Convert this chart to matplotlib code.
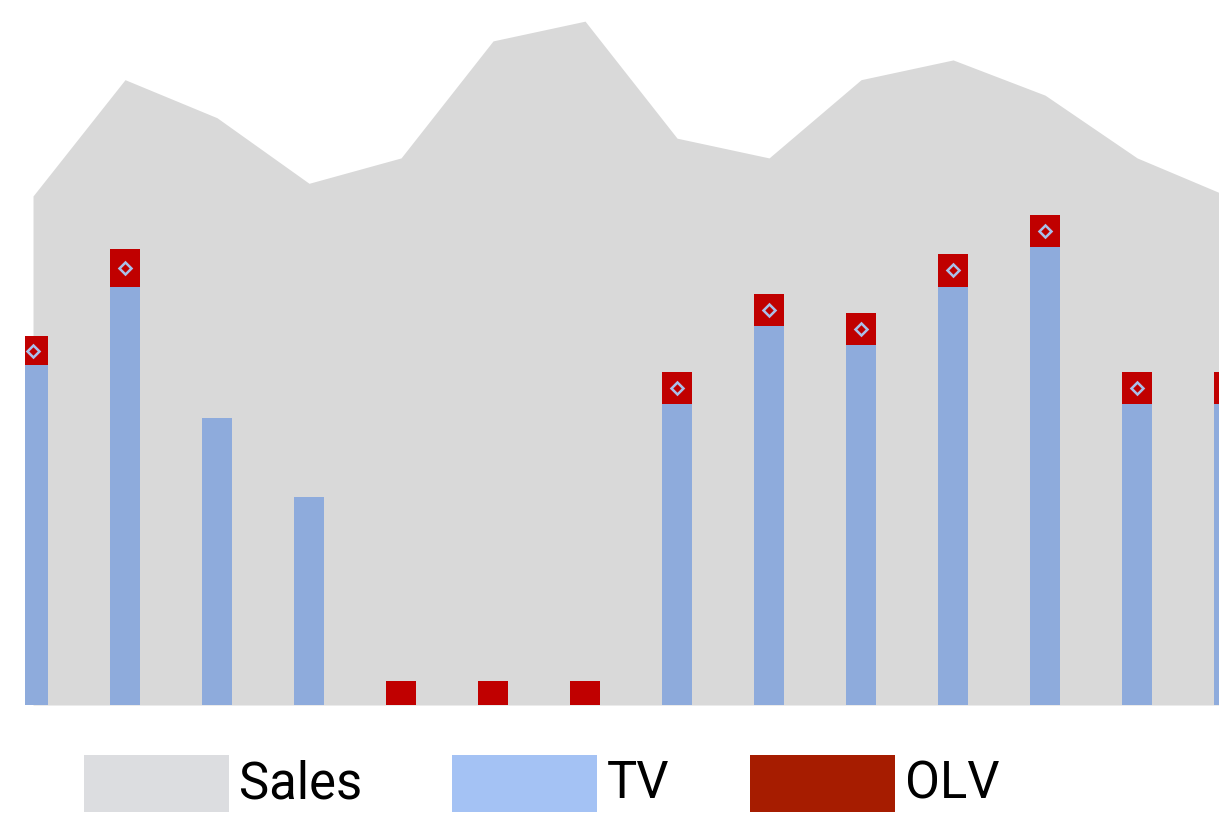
import matplotlib
matplotlib.use("Agg")
import matplotlib.pyplot as plt
from matplotlib.patches import Rectangle
import numpy as np

plt.rcParams['font.family'] = ['Roboto', 'DejaVu Sans']

# weekly series
sales = [72.2, 88.7, 83.3, 74.0, 77.6, 94.2, 97.0, 80.4, 77.6, 88.7, 91.5, 86.5, 77.6, 72.1]
tv = [48.2, 59.3, 40.7, 29.5, 0, 0, 0, 42.7, 53.8, 51.1, 59.3, 65.0, 42.7, 42.7]
olv = [4.1, 5.4, 0, 0, 3.4, 3.4, 3.4, 4.5, 4.5, 4.5, 4.7, 4.5, 4.5, 4.5]

series_names = ['Sales', 'TV', 'OLV']
legend_colors = ['#dcdde0', '#a4c2f4', '#a61c00']

x = np.arange(len(sales))
tv = np.array(tv)
olv = np.array(olv)

fig = plt.figure(figsize=(12.19, 8.13), dpi=100)
ax = fig.add_axes([25 / 1219, 108 / 813, 1 - 25 / 1219, 1 - 108 / 813])

ax.fill_between(x, 0, sales, color='#d9d9d9', linewidth=0, zorder=1)
ax.bar(x, tv, width=0.326, color='#8eabdc', zorder=2)
ax.bar(x, olv, width=0.326, bottom=tv, color='#c00000', zorder=2)

# little markers sitting on the OLV blocks
mark = (tv > 0) & (olv > 0)
ax.plot(x[mark], (tv + olv / 2)[mark], 'D', ms=6.5, mfc='#c00000',
        mec='#a9c0ea', mew=1.8, linestyle='none', zorder=3)

ax.set_xlim(-0.087, 12.89)
ax.set_ylim(0, 100)
ax.axis('off')

# legend row
left = [84, 452, 750]
for name, col, lx in zip(series_names, legend_colors, left):
    fig.add_artist(Rectangle((lx / 1219, 1 / 813), 145 / 1219, 57 / 813,
                             transform=fig.transFigure, color=col, linewidth=0))
    fig.text((lx + 155) / 1219, 29 / 813, name, fontsize=36.5,
             va='center', ha='left', color='black')

fig.savefig('out.png', dpi=100)
